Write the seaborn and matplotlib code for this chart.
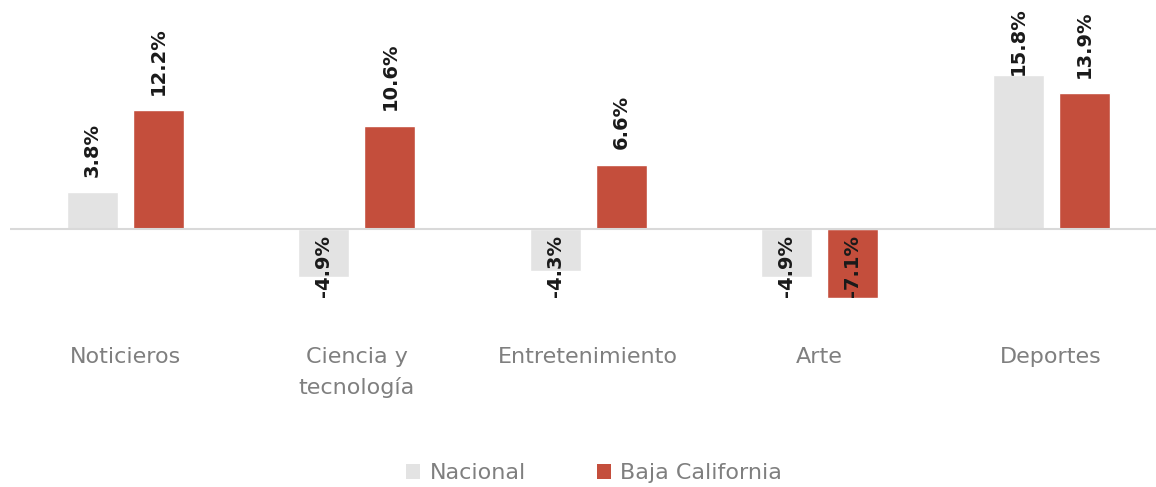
import matplotlib
matplotlib.use("Agg")
import matplotlib.pyplot as plt
import seaborn as sns
import pandas as pd
from matplotlib.patches import Patch

categories = ["Noticieros", "Ciencia y\ntecnología", "Entretenimiento", "Arte", "Deportes"]
series_names = ["Nacional", "Baja California"]
nacional = [3.8, -4.9, -4.3, -4.9, 15.8]
baja_california = [12.2, 10.6, 6.6, -7.1, 13.9]

colors = {"Nacional": "#e3e3e3", "Baja California": "#c44e3c"}

df = pd.DataFrame({
    "categoria": categories * 2,
    "serie": [series_names[0]] * len(categories) + [series_names[1]] * len(categories),
    "valor": nacional + baja_california,
})

sns.set_theme(style="white")
plt.rcParams["font.family"] = ["DejaVu Sans"]

W, H = 1156, 487
fig = plt.figure(figsize=(W / 100, H / 100), dpi=100)
ax_left, ax_right = 10, 1156
ax_top, ax_bottom = 0, 330
ax = fig.add_axes([ax_left / W, 1 - ax_bottom / H, (ax_right - ax_left) / W, (ax_bottom - ax_top) / H])

sns.barplot(data=df, x="categoria", y="valor", hue="serie", palette=colors,
            order=categories, hue_order=series_names, width=0.57, gap=0.228,
            ax=ax, legend=False, saturation=1)

px_per_unit = 9.75
zero_px = 229
ax.set_ylim(-(ax_bottom - zero_px) / px_per_unit, zero_px / px_per_unit)
k = 231.4
xmin = -(125.5 - ax_left) / k
ax.set_xlim(xmin, xmin + (ax_right - ax_left) / k)

ax.axhline(0, color="#d9d9d9", lw=1.5, zorder=3)
for s in ax.spines.values():
    s.set_visible(False)
ax.set_yticks([])
ax.set_xlabel("")
ax.set_ylabel("")
ax.tick_params(axis="x", length=0, pad=12.5, labelsize=16, labelcolor="#7f7f7f")
for t in ax.get_xticklabels():
    t.set_linespacing(1.55)
    t.set_verticalalignment("top")

label_gap_pt = 11
label_len_px = 66
top_margin_px = 7
for cont, vals in zip(ax.containers, [nacional, baja_california]):
    for bar, v in zip(cont, vals):
        xc = bar.get_x() + bar.get_width() / 2
        label = f"{v:.1f}%"
        kw = dict(rotation=90, ha="center", fontsize=14, fontweight="bold",
                  color="#1a1a1a", annotation_clip=False)
        if v >= 0:
            bar_top_px = zero_px - v * px_per_unit
            if bar_top_px - label_gap_pt * 100 / 72 - label_len_px < top_margin_px:
                ax.annotate(label, (xc, 1), xycoords=("data", "axes fraction"),
                            xytext=(0, -top_margin_px * 72 / 100), textcoords="offset points",
                            va="top", **kw)
            else:
                ax.annotate(label, (xc, v), xytext=(0, label_gap_pt),
                            textcoords="offset points", va="bottom", **kw)
        else:
            ax.annotate(label, (xc, 0), xytext=(0, -4), textcoords="offset points",
                        va="top", **kw)

handles = [Patch(facecolor=colors[s], edgecolor="none", label=s) for s in series_names]
fig.legend(handles=handles, loc="center", bbox_to_anchor=(594 / W, 1 - 473 / H), ncol=2,
           frameon=False, fontsize=16, labelcolor="#7f7f7f", handlelength=0.65,
           handleheight=0.65, handletextpad=0.4, columnspacing=3.2)

fig.savefig("out.png", dpi=100)
